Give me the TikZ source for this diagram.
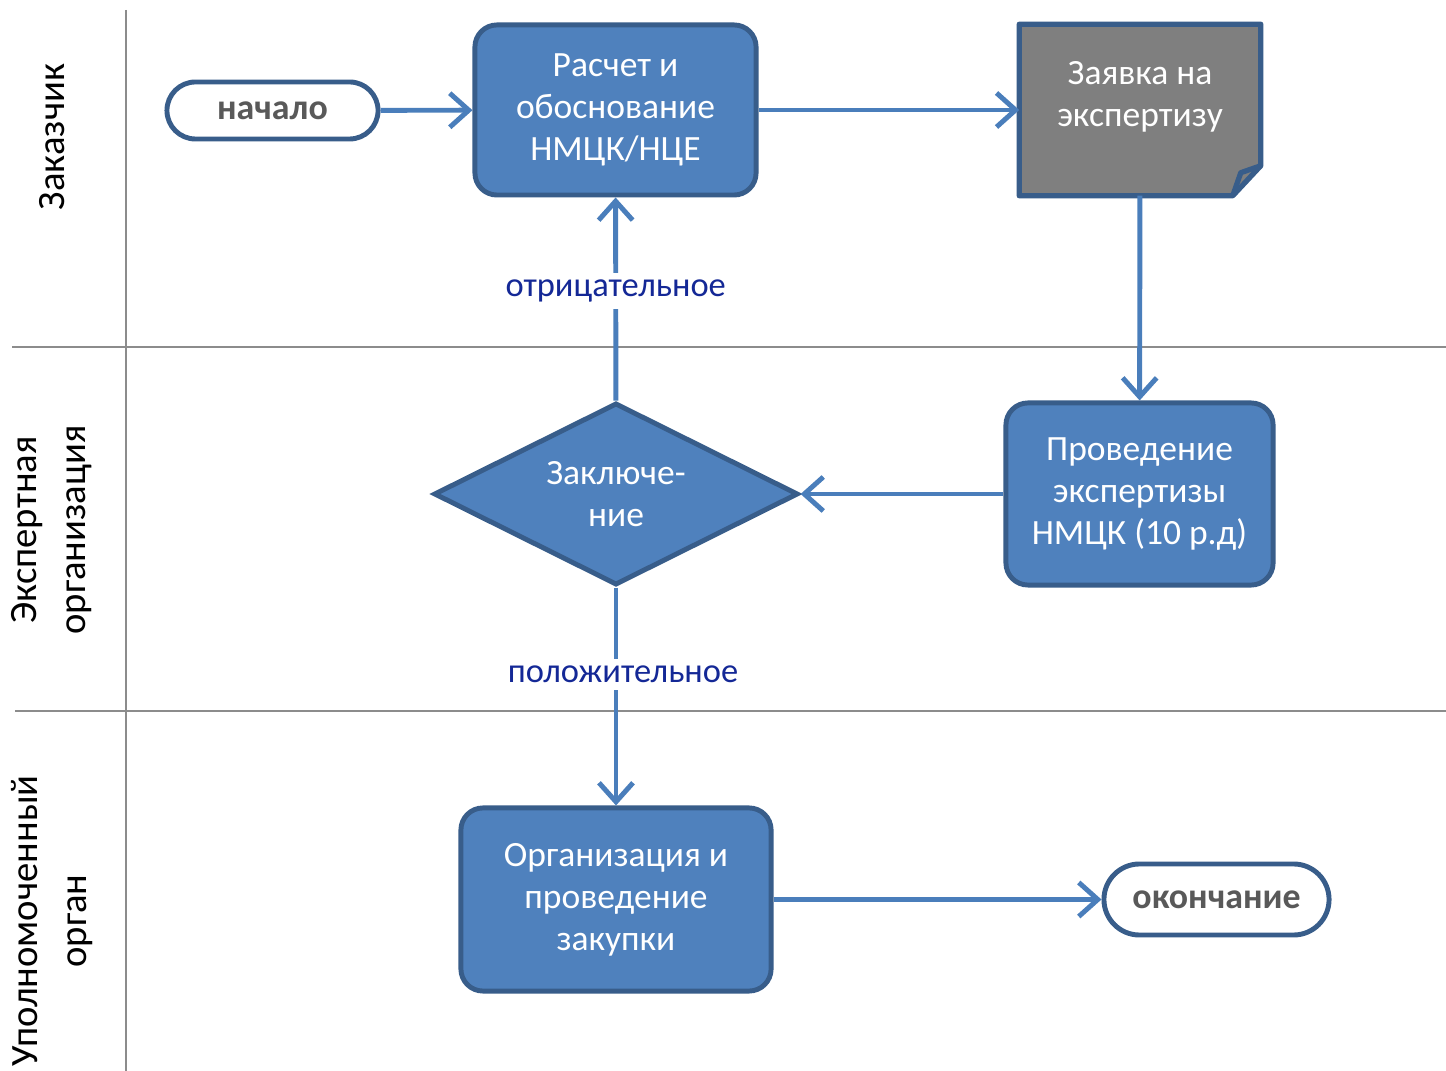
\documentclass[tikz,border=0pt]{standalone}
\usepackage{fontspec}
\setmainfont{Carlito}
\usepackage{xcolor}
\usepackage{tikz}
\usetikzlibrary{arrows.meta,shapes.geometric}
\definecolor{boxfill}{RGB}{79,129,189}
\definecolor{boxline}{RGB}{56,93,138}
\definecolor{flowline}{RGB}{74,126,187}
\definecolor{docfill}{RGB}{127,127,127}
\definecolor{labelblue}{RGB}{20,40,150}
\definecolor{termtext}{RGB}{89,89,89}
\definecolor{lanegray}{RGB}{140,140,140}

\begin{document}
\begin{tikzpicture}[x=0.01cm, y=-0.01cm,
    every node/.style={font=\fontsize{10.1}{11.9}\selectfont},
    procbox/.style={draw=boxline, fill=boxfill, line width=1.4pt, rounded corners=0.22cm,
        text=white, align=center, inner sep=0pt},
    terminal/.style={draw=boxline, fill=white, line width=1.4pt, inner sep=0pt,
        text=termtext, font=\fontsize{10.2}{12}\selectfont\bfseries},
    flow/.style={draw=flowline, line width=1.4pt,
        -{Straight Barb[length=1.9mm,width=3.4mm,line width=1.4pt]}},
    answer/.style={fill=white, text=labelblue, inner sep=2pt, font=\fontsize{9.8}{12}\selectfont},
    lane/.style={draw=lanegray, line width=0.6pt},
    lanename/.style={rotate=90, align=center, font=\fontsize{11}{14}\selectfont}
    ]
    \useasboundingbox[fill=white] (0,0) rectangle (1446,1071);

    % swimlanes
    \draw[lane] (126,10) -- (126,1071);
    \draw[lane] (12,347) -- (1446,347);
    \draw[lane] (15,711) -- (1446,711);
    \node[lanename] (lanecust) at (52,137) {Заказчик};
    \node[lanename] (laneexp) at (52,530) {Экспертная\\организация};
    \node[lanename] (laneauth) at (52,921) {Уполномоченный\\орган};

    % nodes
    \node[terminal, minimum width=2.11cm, minimum height=0.57cm, rounded corners=0.285cm]
        (start) at (272.5,110.5) {начало};
    \node[procbox, minimum width=2.81cm, minimum height=1.70cm]
        (calc) at (615.5,110) {Расчет и\\обоснование\\НМЦК/НЦЕ};
    \node[minimum width=2.40cm, minimum height=1.70cm, inner sep=0pt]
        (request) at (1140,110) {};
    \filldraw[draw=boxline, fill=docfill, line width=1.5pt, line join=round]
        (request.north west) -- (request.north east) -- ([yshift=0.30cm]request.south east)
        -- ([xshift=-0.28cm]request.south east) -- (request.south west) -- cycle;
    \draw[draw=boxline, line width=1.5pt, line join=round]
        ([xshift=-0.28cm]request.south east) -- ([xshift=-0.20cm,yshift=0.23cm]request.south east)
        -- ([yshift=0.30cm]request.south east);
    \node[text=white, align=center] (requesttext) at (1140,97) {Заявка на\\экспертизу};
    \node[procbox, minimum width=2.67cm, minimum height=1.82cm]
        (exam) at (1139.5,494) {Проведение\\экспертизы\\НМЦК (10 р.д)};
    \node[diamond, draw=boxline, fill=boxfill, line width=1.4pt, text=white, align=center,
        inner sep=0pt, aspect=2, minimum width=3.64cm, minimum height=1.82cm]
        (concl) at (616,494) {Заключе-\\ние};
    \node[procbox, minimum width=3.10cm, minimum height=1.83cm]
        (proc) at (616,899.5) {Организация и\\проведение\\закупки};
    \node[terminal, minimum width=2.25cm, minimum height=0.71cm, rounded corners=0.355cm]
        (stop) at (1216.5,899.5) {окончание};

    % connectors
    \draw[flow] (start) -- (calc);
    \draw[flow] (calc) -- (request);
    \draw[flow] (request) -- (exam);
    \draw[flow] (exam) -- (concl);
    \draw[flow] (concl) -- node[answer, pos=0.54] {отрицательное} (calc);
    \draw[flow] (concl) -- node[answer, pos=0.4, xshift=0.07cm] {положительное} (proc);
    \draw[flow] (proc) -- (stop);
\end{tikzpicture}
\end{document}
